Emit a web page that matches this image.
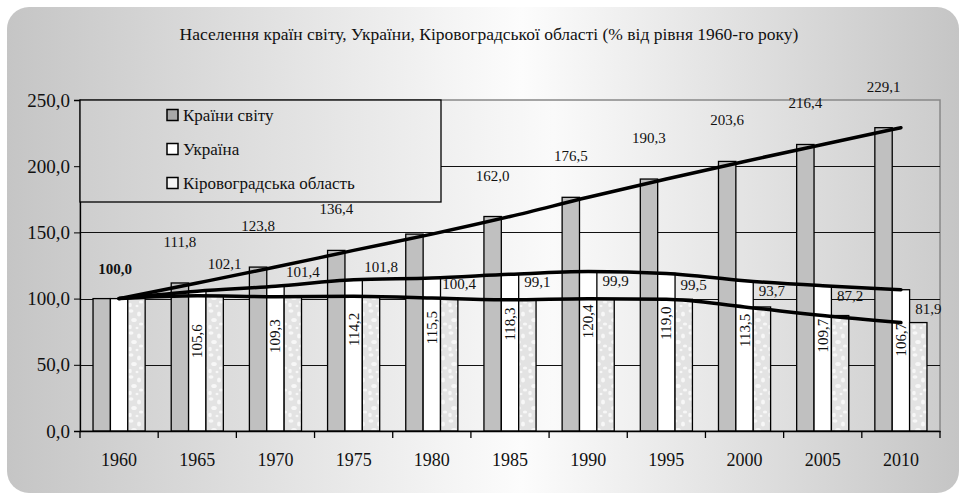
<!DOCTYPE html>
<html>
<head>
<meta charset="utf-8">
<script src="https://cdn.jsdelivr.net/npm/d3@7"></script>
<style>
  body { margin: 0; background: #fff; }
  svg { display: block; font-family: "Liberation Serif", "Times New Roman", serif; }
</style>
</head>
<body>
<script>
const years = ['1960', '1965', '1970', '1975', '1980', '1985', '1990', '1995', '2000', '2005', '2010'];
const world = [100.0, 111.8, 123.8, 136.4, 148.7, 162.0, 176.5, 190.3, 203.6, 216.4, 229.1];
const ukraine = [100.0, 105.6, 109.3, 114.2, 115.5, 118.3, 120.4, 119.0, 113.5, 109.7, 106.7];
const kirovohrad = [100.0, 102.1, 101.4, 101.8, 100.4, 99.1, 99.9, 99.5, 93.7, 87.2, 81.9];
const seriesNames = ['Країни світу', 'Україна', 'Кіровоградська область'];
const yTicks = [0, 50, 100, 150, 200, 250];

const w = 960;
const h = 493;
const margin = { top: 100, right: 20, bottom: 62, left: 80 };
const plotRight = w - margin.right;
const plotBottom = h - margin.bottom;

const fmt = v => d3.format('.1f')(v).replace('.', ',');

const svg = d3
  .select('body')
  .append('svg')
  .attr('width', w)
  .attr('height', h);

const defs = svg.append('defs');

// background gradients
const panelGrad = defs
  .append('linearGradient')
  .attr('id', 'panelGrad')
  .attr('gradientUnits', 'userSpaceOnUse')
  .attr('x1', 7)
  .attr('x2', 959)
  .attr('y1', 0)
  .attr('y2', 0);
panelGrad.append('stop').attr('offset', '0%').attr('stop-color', '#c5c5c5');
panelGrad.append('stop').attr('offset', '54%').attr('stop-color', '#fcfcfc');
panelGrad.append('stop').attr('offset', '100%').attr('stop-color', '#c5c5c5');

const plotGrad = defs
  .append('linearGradient')
  .attr('id', 'plotGrad')
  .attr('gradientUnits', 'userSpaceOnUse')
  .attr('x1', margin.left)
  .attr('x2', plotRight)
  .attr('y1', 0)
  .attr('y2', 0);
plotGrad.append('stop').attr('offset', '0%').attr('stop-color', '#cecece');
plotGrad.append('stop').attr('offset', '55%').attr('stop-color', '#fafafa');
plotGrad.append('stop').attr('offset', '100%').attr('stop-color', '#cdcdcd');

// speckled texture for the region bars (plain shapes, no filters)
const tex = defs
  .append('pattern')
  .attr('id', 'tex')
  .attr('patternUnits', 'userSpaceOnUse')
  .attr('width', 16)
  .attr('height', 22);
tex.append('rect').attr('width', 16).attr('height', 22).attr('fill', '#e3e3e3');
const specks = [[3, 3, 2.5, 1.8], [11, 6, 2, 2.6], [6, 12, 2.8, 2], [13, 16, 2.2, 1.6], [2, 19, 1.8, 2.2], [9, 20, 1.5, 1.3]];
tex
  .selectAll('ellipse')
  .data(specks)
  .enter()
  .append('ellipse')
  .attr('cx', d => d[0])
  .attr('cy', d => d[1])
  .attr('rx', d => d[2])
  .attr('ry', d => d[3])
  .attr('fill', '#f7f7f7');

svg
  .append('rect')
  .attr('x', 7)
  .attr('y', 7)
  .attr('width', 952)
  .attr('height', 486)
  .attr('rx', 22)
  .attr('fill', 'url(#panelGrad)');

// Scales
const x0 = d3
  .scaleBand()
  .domain(years)
  .range([margin.left, plotRight]);

const x1 = d3
  .scaleBand()
  .domain([0, 1, 2])
  .range([0, x0.bandwidth()])
  .paddingOuter(0.75);

const y = d3
  .scaleLinear()
  .domain([0, 250])
  .range([plotBottom, margin.top]);

const cx = i => x0(years[i]) + x0.bandwidth() / 2;

// plot area
svg
  .append('rect')
  .attr('x', margin.left)
  .attr('y', margin.top)
  .attr('width', plotRight - margin.left)
  .attr('height', plotBottom - margin.top)
  .attr('fill', 'url(#plotGrad)')
  .attr('stroke', '#888')
  .attr('stroke-width', 1.5);

svg
  .append('g')
  .selectAll('line')
  .data(yTicks.filter(d => d > 0 && d < 250))
  .enter()
  .append('line')
  .attr('x1', margin.left)
  .attr('x2', plotRight)
  .attr('y1', d => Math.round(y(d)) + 0.5)
  .attr('y2', d => Math.round(y(d)) + 0.5)
  .attr('stroke', '#111')
  .attr('stroke-width', 1);

// Bars
const series = [world, ukraine, kirovohrad];
const fills = ['#c0c0c0', '#ffffff', 'url(#tex)'];

series.forEach((values, s) => {
  svg
    .append('g')
    .selectAll('rect')
    .data(values)
    .enter()
    .append('rect')
    .attr('x', (d, i) => x0(years[i]) + x1(s))
    .attr('y', d => y(d))
    .attr('width', x1.bandwidth())
    .attr('height', d => y(0) - y(d))
    .attr('fill', fills[s])
    .attr('stroke', '#000')
    .attr('stroke-width', 1.3);
});

// Trend lines through the category centres
const line = d3
  .line()
  .x((d, i) => cx(i))
  .y(d => y(d))
  .curve(d3.curveMonotoneX);

series.forEach(values => {
  svg
    .append('path')
    .attr('d', line(values))
    .attr('fill', 'none')
    .attr('stroke', '#000')
    .attr('stroke-width', 3.5)
    .attr('stroke-linecap', 'round');
});

// screen y of a trend line at a given x (null past its last point)
const lineYAt = (values, px) => {
  const i = Math.floor((px - cx(0)) / x0.step());
  if (i < 0 || i >= values.length - 1) return null;
  const t = (px - cx(i)) / x0.step();
  return y(values[i]) + t * (y(values[i + 1]) - y(values[i]));
};

// Data labels
const labels = svg.append('g').attr('font-size', 15).attr('fill', '#111');

labels
  .selectAll('text.world')
  .data(world)
  .enter()
  .append('text')
  .attr('class', 'world')
  .attr('text-anchor', 'middle')
  .attr('font-weight', (d, i) => (i === 0 ? 'bold' : 'normal'))
  .attr('x', (d, i) =>
    i === 0 ? cx(i) - 4 : x0(years[i]) + x1(0) + x1.bandwidth() / 2
  )
  .attr('y', (d, i) => y(d) - (i === 0 ? 25 : 36))
  .text(d => fmt(d));

labels
  .selectAll('text.ukr')
  .data(ukraine)
  .enter()
  .filter((d, i) => i > 0)
  .append('text')
  .attr('class', 'ukr')
  .attr('text-anchor', 'end')
  .attr('transform', (d, i) => {
    const tx = x0(years[i + 1]) + x1(1) + x1.bandwidth() / 2 + 5;
    return 'translate(' + tx + ',' + (y(d) + 33) + ') rotate(-90)';
  })
  .text(d => fmt(d));

// region labels: just under the Ukraine line if there is room, otherwise above it
// (and above the world line too when they would collide)
const kirX = i => x0(years[i]) + x1(2) + x1.bandwidth() / 2 + 10;
const kirLabelY = (d, i) => {
  const px = kirX(i);
  const top = y(d);
  const lu = lineYAt(ukraine, px);
  let c = top - 14;
  if (lu !== null) {
    if (top - lu >= 20) {
      c = Math.min(c, lu + 9);
    } else {
      c = lu - 12;
      const lw = lineYAt(world, px);
      if (lw !== null && Math.abs(lw - c) < 10) c = lw - 13;
    }
  }
  return c + 5;
};

labels
  .selectAll('text.kir')
  .data(kirovohrad)
  .enter()
  .filter((d, i) => i > 0)
  .append('text')
  .attr('class', 'kir')
  .attr('text-anchor', 'middle')
  .attr('x', (d, i) => kirX(i + 1))
  .attr('y', (d, i) => kirLabelY(d, i + 1))
  .text(d => fmt(d));

// Axes
const yAxis = d3
  .axisLeft(y)
  .tickValues(yTicks)
  .tickSize(6)
  .tickFormat(fmt);

svg
  .append('g')
  .attr('transform', 'translate(' + margin.left + ',0)')
  .call(yAxis)
  .call(g => g.select('.domain').attr('stroke', '#000').attr('stroke-width', 1.3))
  .call(g =>
    g
      .selectAll('text')
      .attr('font-family', '"Liberation Serif", serif')
      .attr('font-size', 19)
      .attr('fill', '#111')
      .attr('x', -10)
  );

const xAxis = d3
  .axisBottom(x0)
  .tickSize(0)
  .tickPadding(22);

const xg = svg
  .append('g')
  .attr('transform', 'translate(0,' + plotBottom + ')')
  .call(xAxis)
  .call(g => g.select('.domain').attr('stroke', '#000').attr('stroke-width', 1.3))
  .call(g =>
    g
      .selectAll('text')
      .attr('font-family', '"Liberation Serif", serif')
      .attr('font-size', 18)
      .attr('fill', '#111')
  );

// ticks between categories
xg
  .selectAll('line.sep')
  .data(d3.range(years.length + 1))
  .enter()
  .append('line')
  .attr('class', 'sep')
  .attr('x1', i => margin.left + i * x0.step())
  .attr('x2', i => margin.left + i * x0.step())
  .attr('y1', 0)
  .attr('y2', 7)
  .attr('stroke', '#000')
  .attr('stroke-width', 1.3);

// Legend
const legend = svg.append('g');
legend
  .append('rect')
  .attr('x', margin.left)
  .attr('y', margin.top)
  .attr('width', 361)
  .attr('height', 102)
  .attr('fill', 'url(#plotGrad)')
  .attr('stroke', '#000')
  .attr('stroke-width', 1.3);

const legendFills = ['#a8a8a8', '#ffffff', '#f4f4f4'];
const item = legend
  .selectAll('g.item')
  .data(seriesNames)
  .enter()
  .append('g')
  .attr('class', 'item')
  .attr('transform', (d, i) => 'translate(167,' + (115 + i * 34) + ')');

item
  .append('rect')
  .attr('x', 0)
  .attr('y', -5.5)
  .attr('width', 11)
  .attr('height', 11)
  .attr('fill', (d, i) => legendFills[i])
  .attr('stroke', '#000')
  .attr('stroke-width', 1.5);

item
  .append('text')
  .attr('x', 16)
  .attr('dy', '0.35em')
  .attr('font-size', 17)
  .attr('fill', '#111')
  .text(d => d);

// Title
svg
  .append('text')
  .attr('x', 489)
  .attr('y', 40)
  .attr('text-anchor', 'middle')
  .attr('font-size', 17.5)
  .attr('fill', '#111')
  .text('Населення країн світу, України, Кіровоградської області (% від рівня 1960-го року)');
</script>
</body>
</html>
